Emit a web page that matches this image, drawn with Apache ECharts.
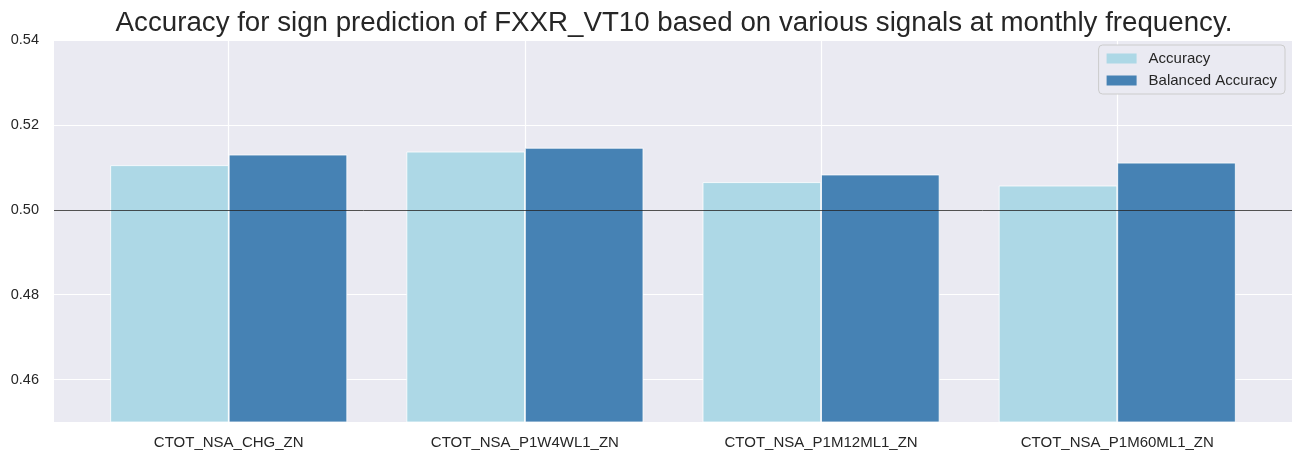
<!DOCTYPE html>
<html>
<head>
<meta charset="utf-8">
<script src="https://cdn.jsdelivr.net/npm/echarts@6/dist/echarts.min.js"></script>
<style>
html,body{margin:0;padding:0;background:#fff;}
#chart{width:1303px;height:460px;}
</style>
</head>
<body>
<div id="chart"></div>
<script>
const titleText = 'Accuracy for sign prediction of FXXR_VT10 based on various signals at monthly frequency.';
const categories = ['CTOT_NSA_CHG_ZN', 'CTOT_NSA_P1W4WL1_ZN', 'CTOT_NSA_P1M12ML1_ZN', 'CTOT_NSA_P1M60ML1_ZN'];
const accuracy = [0.5105, 0.5137, 0.5065, 0.5057];
const balancedAccuracy = [0.5130, 0.5146, 0.5083, 0.5111];
const seriesNames = ['Accuracy', 'Balanced Accuracy'];
const yMin = 0.45, yMax = 0.54;
const refLine = 0.5;

const FONT = '"Liberation Sans", Arial, sans-serif';
const TXT = '#262626';
const box = {left: 54, right: 11, top: 40, bottom: 38};

const chart = echarts.init(document.getElementById('chart'), null, {renderer: 'canvas'});
const toPairs = arr => arr.map((v, i) => [i, v]);

chart.setOption({
  animation: false,
  backgroundColor: '#ffffff',
  textStyle: {fontFamily: FONT},
  title: {
    text: titleText,
    left: 669,
    textAlign: 'center',
    top: 4,
    textStyle: {fontFamily: FONT, fontSize: 27.7, fontWeight: 'normal', color: TXT}
  },
  legend: {
    orient: 'vertical',
    right: 18,
    top: 45,
    padding: [6, 8, 6, 8],
    itemWidth: 30,
    itemHeight: 10,
    itemGap: 7,
    icon: 'rect',
    backgroundColor: '#EAEAF2',
    borderColor: '#cccccc',
    borderWidth: 1,
    borderRadius: 4,
    data: seriesNames,
    itemStyle: {borderWidth: 0},
    textStyle: {fontFamily: FONT, fontSize: 15, color: TXT, padding: [0, 0, 0, 7]}
  },
  grid: [
    Object.assign({show: true, backgroundColor: '#EAEAF2', borderWidth: 0}, box),
    Object.assign({}, box),
    {left: 228.7, right: 185.7, top: 40, bottom: 38}
  ],
  xAxis: [
    {gridIndex: 0, type: 'value', min: 0, max: 1, show: false},
    {gridIndex: 1, type: 'value', min: -0.59, max: 3.59, show: false},
    {
      gridIndex: 2, type: 'category', boundaryGap: false, data: categories,
      axisLine: {show: false}, axisTick: {show: false},
      splitLine: {show: true, lineStyle: {color: '#ffffff', width: 1.2}},
      axisLabel: {fontFamily: FONT, fontSize: 15, color: TXT, margin: 13}
    }
  ],
  yAxis: [
    {
      gridIndex: 0, type: 'value', min: yMin, max: yMax,
      axisLine: {show: false}, axisTick: {show: false},
      splitLine: {show: true, lineStyle: {color: '#ffffff', width: 1.2}},
      axisLabel: {fontFamily: FONT, fontSize: 14.5, color: TXT, margin: 15, showMinLabel: false,
        formatter: v => v.toFixed(2)}
    },
    {gridIndex: 1, type: 'value', min: yMin, max: yMax, show: false, splitLine: {show: false}},
    {gridIndex: 2, type: 'value', min: yMin, max: yMax, show: false, splitLine: {show: false}}
  ],
  series: [
    {
      name: seriesNames[0], type: 'bar', xAxisIndex: 1, yAxisIndex: 1,
      data: toPairs(accuracy), barWidth: 118.5, barGap: '0%', clip: true,
      itemStyle: {color: '#ADD8E6', borderColor: '#ffffff', borderWidth: 0.8}
    },
    {
      name: seriesNames[1], type: 'bar', xAxisIndex: 1, yAxisIndex: 1,
      data: toPairs(balancedAccuracy), barWidth: 118.5, barGap: '0%', clip: true,
      itemStyle: {color: '#4682B4', borderColor: '#ffffff', borderWidth: 0.8},
      markLine: {
        silent: true, symbol: ['none', 'none'], label: {show: false},
        lineStyle: {color: '#262626', width: 0.8, type: 'solid'},
        data: [{yAxis: refLine}]
      }
    }
  ]
});
</script>
</body>
</html>
